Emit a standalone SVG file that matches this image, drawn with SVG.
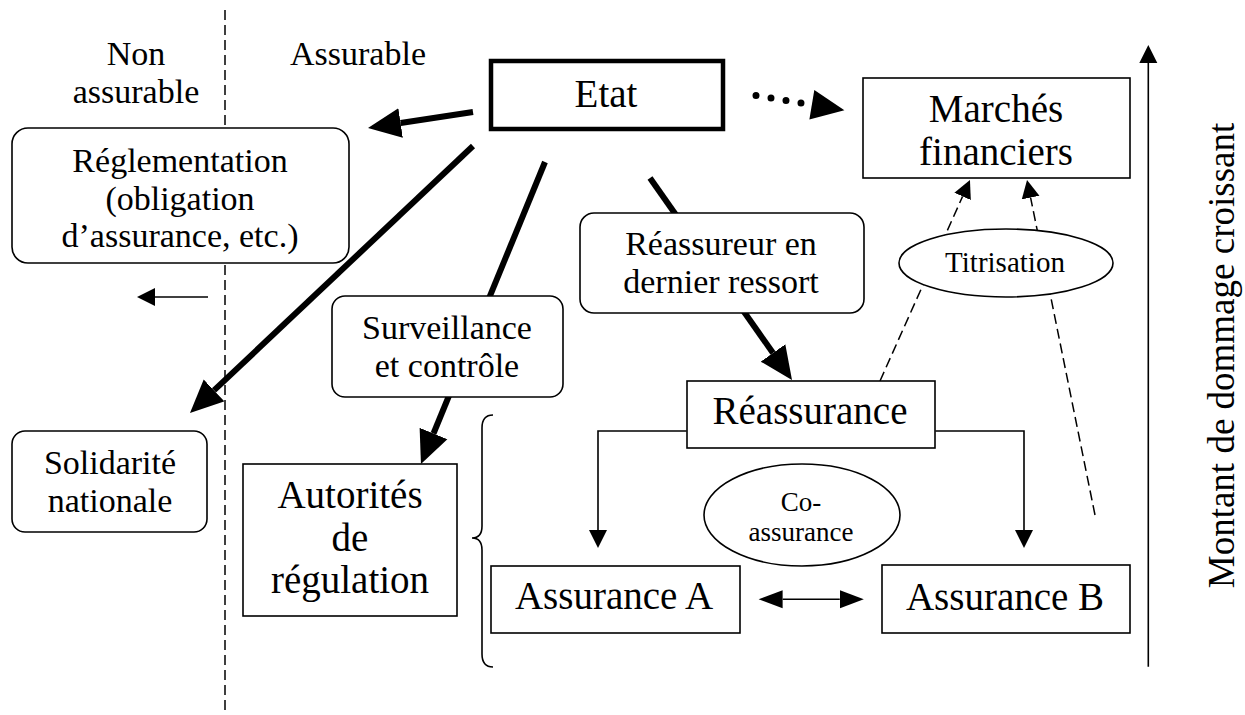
<svg xmlns="http://www.w3.org/2000/svg" width="1245" height="715" viewBox="0 0 1245 715">
<style>
.t{font-family:'Liberation Serif','Times New Roman',serif;fill:#000;stroke:none;text-anchor:middle}
.f34{font-size:34px}
.f39{font-size:39px}
.box{fill:#fff;stroke:#000;stroke-width:1.6}
.thick{fill:none;stroke:#000;stroke-width:6}
.thin{fill:none;stroke:#000;stroke-width:1.6}
.dash{fill:none;stroke:#000;stroke-width:1.5;stroke-dasharray:10 5}
</style>
<defs>
<marker id="big" viewBox="0 -16 34 32" refX="0" refY="0" markerWidth="34" markerHeight="32" markerUnits="userSpaceOnUse" orient="auto"><path d="M0,-15 L33,0 L0,15 z" fill="#000"/></marker>
<marker id="dothead" viewBox="0 -16 46 32" refX="0" refY="0" markerWidth="46" markerHeight="32" markerUnits="userSpaceOnUse" orient="auto"><path d="M11,-15 L44,0 L11,15 z" fill="#000"/></marker>
<marker id="small" viewBox="0 -10 19 20" refX="0" refY="0" markerWidth="19" markerHeight="20" markerUnits="userSpaceOnUse" orient="auto-start-reverse"><path d="M0,-9 L18,0 L0,9 z" fill="#000"/></marker>
<marker id="dbl" viewBox="0 -10 25 20" refX="0" refY="0" markerWidth="25" markerHeight="20" markerUnits="userSpaceOnUse" orient="auto-start-reverse"><path d="M0,-9 L24,0 L0,9 z" fill="#000"/></marker>
</defs>

<g id="labels">
<text class="t f34" font-family="Liberation Serif" x="136" y="65">Non</text>
<text class="t f34" font-family="Liberation Serif" x="136" y="103">assurable</text>
<text class="t f34" font-family="Liberation Serif" x="358" y="65">Assurable</text>
<text class="t" font-family="Liberation Serif" font-size="37" x="1234" y="0" transform="translate(0,355.5) rotate(-90 1234 0)">Montant de dommage croissant</text>
</g>

<g id="connectors">
<line class="dash" x1="225" y1="10" x2="225" y2="715"/>
<path class="thick" d="M473,112 L400.6,123" marker-end="url(#big)"/>
<path class="thick" d="M473,146 L214,390.4" marker-end="url(#big)"/>
<path class="thick" d="M545,162 L433.5,433.5" marker-end="url(#big)"/>
<path class="thick" d="M650,178 L773,353" marker-end="url(#big)"/>
<path d="M756,95.5 L801,103" fill="none" stroke="#000" stroke-width="7" stroke-linecap="round" stroke-dasharray="0 15.2" marker-end="url(#dothead)"/>
<path class="thin" d="M208,297 H155" marker-end="url(#small)"/>
<path class="thin" d="M686.6,431 H598 V530" marker-end="url(#small)"/>
<path class="thin" d="M935.4,431 H1024 V530" marker-end="url(#small)"/>
<path class="thin" d="M782.6,599.3 H839.8" marker-start="url(#dbl)" marker-end="url(#dbl)"/>
<path class="dash" d="M880,381 L962.6,196.4" marker-end="url(#small)"/>
<path class="dash" d="M1095,515 L1030.6,197.6" marker-end="url(#small)"/>
<path class="thin" d="M1148.3,666.7 V63" marker-end="url(#small)"/>
<path class="thin" d="M493,415 Q482,415 482,428 V526 Q482,538 472,538 Q482,538 482,550 V654 Q482,667 493,667"/>
</g>

<g id="etat">
<rect x="491" y="61" width="232" height="68" fill="#fff" stroke="#000" stroke-width="4.5"/>
<text class="t f39" font-family="Liberation Serif" x="606" y="107">Etat</text>
</g>
<g id="reglementation">
<rect class="box" x="12" y="128" width="337" height="135" rx="16"/>
<text class="t f34" font-family="Liberation Serif" x="180" y="172">Réglementation</text>
<text class="t f34" font-family="Liberation Serif" x="180" y="209.5">(obligation</text>
<text class="t f34" font-family="Liberation Serif" x="180" y="247">d’assurance, etc.)</text>
</g>
<g id="marches">
<rect class="box" x="863" y="78" width="267" height="100"/>
<text class="t f39" font-family="Liberation Serif" x="996" y="122">Marchés</text>
<text class="t f39" font-family="Liberation Serif" x="996" y="165">financiers</text>
</g>
<g id="reassureur">
<rect class="box" x="580" y="213" width="284" height="100" rx="14"/>
<text class="t f34" font-family="Liberation Serif" x="721" y="255">Réassureur en</text>
<text class="t f34" font-family="Liberation Serif" x="721" y="293">dernier ressort</text>
</g>
<g id="surveillance">
<rect class="box" x="332" y="296" width="231" height="101" rx="13"/>
<text class="t f34" font-family="Liberation Serif" x="447" y="339">Surveillance</text>
<text class="t f34" font-family="Liberation Serif" x="447" y="377">et contrôle</text>
</g>
<g id="titrisation">
<ellipse class="box" cx="1006" cy="263" rx="107" ry="34"/>
<text class="t" font-family="Liberation Serif" font-size="29" x="1005" y="272">Titrisation</text>
</g>
<g id="reassurance">
<rect class="box" x="687" y="381" width="248" height="67"/>
<text class="t f39" font-family="Liberation Serif" x="810" y="424">Réassurance</text>
</g>
<g id="solidarite">
<rect class="box" x="12" y="431" width="195" height="101" rx="13"/>
<text class="t f34" font-family="Liberation Serif" x="110" y="474">Solidarité</text>
<text class="t f34" font-family="Liberation Serif" x="110" y="512">nationale</text>
</g>
<g id="autorites">
<rect class="box" x="243" y="464" width="214" height="152"/>
<text class="t f39" font-family="Liberation Serif" x="350" y="508">Autorités</text>
<text class="t f39" font-family="Liberation Serif" x="350" y="551">de</text>
<text class="t f39" font-family="Liberation Serif" x="350" y="593">régulation</text>
</g>
<g id="coassurance">
<ellipse class="box" cx="802" cy="515" rx="98" ry="51"/>
<text class="t" font-family="Liberation Serif" font-size="27" x="801" y="511">Co-</text>
<text class="t" font-family="Liberation Serif" font-size="27" x="801" y="541">assurance</text>
</g>
<g id="assuranceA">
<rect class="box" x="491" y="566" width="249" height="67"/>
<text class="t f39" font-family="Liberation Serif" x="614" y="609">Assurance A</text>
</g>
<g id="assuranceB">
<rect class="box" x="882" y="565" width="248" height="68"/>
<text class="t f39" font-family="Liberation Serif" x="1005" y="610">Assurance B</text>
</g>
</svg>
